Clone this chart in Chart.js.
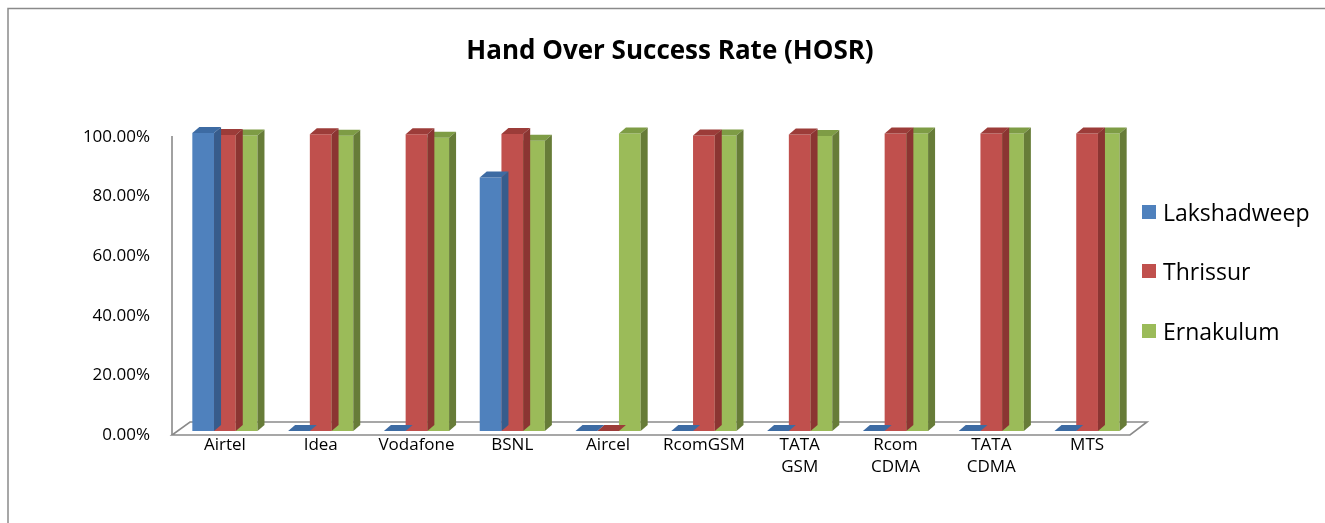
<!DOCTYPE html>
<html>
<head>
<meta charset="utf-8">
<script src="https://cdn.jsdelivr.net/npm/chart.js@4/dist/chart.umd.min.js"></script>
<style>
  html, body { margin: 0; padding: 0; background: #fff; }
  #wrap { position: relative; width: 1325px; height: 523px; overflow: hidden; }
  #c { position: absolute; left: 0; top: 0; }
  #legend { position: absolute; left: 1142px; top: 0; font-family: "Open Sans", sans-serif; font-size: 23px; color: #000; }
  .item { position: absolute; left: 0; white-space: nowrap; height: 30px; line-height: 30px; }
  .sw { position: absolute; left: 0; top: 8px; width: 14px; height: 14px; }
  .lbl { position: absolute; left: 21px; top: 0; }
</style>
</head>
<body>
<div id="wrap">
  <canvas id="c" width="1325" height="523"></canvas>
  <div id="legend"></div>
</div>
<script>
// ---- data ----
const categories = ["Airtel", "Idea", "Vodafone", "BSNL", "Aircel", "RcomGSM", ["TATA", "GSM"], ["Rcom", "CDMA"], ["TATA", "CDMA"], "MTS"];
const seriesNames = ["Lakshadweep", "Thrissur", "Ernakulum"];
const lakshadweep = [100.0, 0, 0, 85.1, 0, 0, 0, 0, 0, 0];
const thrissur    = [99.3, 99.6, 99.6, 99.7, 0, 99.2, 99.5, 99.8, 99.8, 99.8];
const ernakulum   = [99.2, 99.1, 98.4, 97.4, 99.8, 99.2, 99.0, 99.8, 99.8, 99.8];
const yTicks = [0, 20, 40, 60, 80, 100];

const frontColors = ["#4F81BD", "#C0504D", "#9BBB59"];
const topColors   = ["#3D6BA3", "#9C3C39", "#7E9C45"];
const sideColors  = ["#375C8C", "#8B3532", "#677C38"];

const DX = 7, DY = 6;

const framePlugin = {
  id: 'frame',
  beforeDraw(chart) {
    const ctx = chart.ctx;
    ctx.save();
    ctx.fillStyle = '#fff';
    ctx.fillRect(0, 0, chart.width, chart.height);
    ctx.strokeStyle = '#8a8a8a';
    ctx.lineWidth = 1.5;
    ctx.strokeRect(8, 8.5, chart.width + 20, chart.height + 20);
    ctx.restore();
  },
  beforeDatasetsDraw(chart) {
    const ctx = chart.ctx;
    const y = chart.scales.y, a = chart.chartArea;
    const base = y.getPixelForValue(0);
    const top = y.getPixelForValue(100);
    const l = a.left - 5, r = a.right - 5;
    ctx.save();
    ctx.strokeStyle = '#8a8a8a';
    ctx.lineWidth = 1.6;
    ctx.beginPath();
    ctx.moveTo(l, base + 4);
    ctx.lineTo(r, base + 4);
    ctx.lineTo(r + 17, base - 9);
    ctx.lineTo(l + 18, base - 9);
    ctx.closePath();
    ctx.stroke();
    ctx.beginPath();
    ctx.moveTo(l, top + 3);
    ctx.lineTo(l, base + 4);
    ctx.stroke();
    ctx.restore();
  },
  afterDatasetDraw(chart, args) {
    const ctx = chart.ctx;
    const i = args.index;
    const meta = args.meta;
    ctx.save();
    meta.data.forEach(el => {
      const p = el.getProps(['x', 'y', 'base', 'width'], true);
      const x0 = p.x - p.width / 2, x1 = p.x + p.width / 2;
      const yt = Math.min(p.y, p.base), yb = p.base;
      ctx.fillStyle = topColors[i];
      ctx.beginPath();
      ctx.moveTo(x0, yt);
      ctx.lineTo(x1, yt);
      ctx.lineTo(x1 + DX, yt - DY);
      ctx.lineTo(x0 + DX, yt - DY);
      ctx.closePath();
      ctx.fill();
      ctx.fillStyle = sideColors[i];
      ctx.beginPath();
      ctx.moveTo(x1, yt);
      ctx.lineTo(x1 + DX, yt - DY);
      ctx.lineTo(x1 + DX, yb - DY);
      ctx.lineTo(x1, yb);
      ctx.closePath();
      ctx.fill();
    });
    ctx.restore();
  }
};

const chart = new Chart(document.getElementById('c'), {
  type: 'bar',
  data: {
    labels: categories,
    datasets: [
      { label: seriesNames[0], data: lakshadweep, backgroundColor: frontColors[0], yAxisID: 'y' },
      { label: seriesNames[1], data: thrissur, backgroundColor: frontColors[1], yAxisID: 'y' },
      { label: seriesNames[2], data: ernakulum, backgroundColor: frontColors[2], yAxisID: 'y' }
    ]
  },
  options: {
    responsive: false,
    animation: false,
    devicePixelRatio: 1,
    layout: { padding: { left: 15, right: 0, top: 0, bottom: 0 } },
    datasets: { bar: { categoryPercentage: 0.68, barPercentage: 1.0, borderWidth: 0 } },
    plugins: {
      legend: { display: false },
      tooltip: { enabled: false },
      title: {
        display: true,
        text: 'Hand Over Success Rate (HOSR)',
        color: '#000',
        font: { family: '"Open Sans", sans-serif', size: 26, weight: 'bold', lineHeight: 1.2 },
        padding: { top: 36, bottom: 65.8 }
      }
    },
    scales: {
      x: {
        grid: { display: false, drawTicks: false },
        border: { display: false },
        ticks: {
          color: '#000',
          font: { family: '"Open Sans", sans-serif', size: 17, lineHeight: 1.3 },
          padding: 3,
          maxRotation: 0,
          autoSkip: false
        },
        afterFit(s) { s.height = 92; }
      },
      y: {
        min: 0, max: 100,
        grid: { display: false, drawTicks: false },
        border: { display: false },
        afterBuildTicks(s) { s.ticks = yTicks.map(v => ({ value: v })); },
        ticks: {
          color: '#000',
          font: { family: '"Open Sans", sans-serif', size: 17 },
          padding: 27,
          labelOffset: 4,
          callback: v => v.toFixed(2) + '%'
        },
        afterFit(s) { s.width = 162; }
      },
      yRight: {
        position: 'right',
        min: 0, max: 100,
        grid: { display: false, drawTicks: false },
        border: { display: false },
        ticks: { display: false },
        afterFit(s) { s.width = 190; }
      }
    }
  },
  plugins: [framePlugin]
});

// legend (HTML, from the series names and colours)
const legendEl = document.getElementById('legend');
const legendY = [212, 271, 331];
seriesNames.forEach((n, i) => {
  const d = document.createElement('div');
  d.className = 'item';
  d.style.top = (legendY[i] - 15) + 'px';
  d.innerHTML = '<span class="sw" style="background:' + frontColors[i] + '"></span><span class="lbl"></span>';
  d.querySelector('.lbl').textContent = n;
  legendEl.appendChild(d);
});
</script>
</body>
</html>
